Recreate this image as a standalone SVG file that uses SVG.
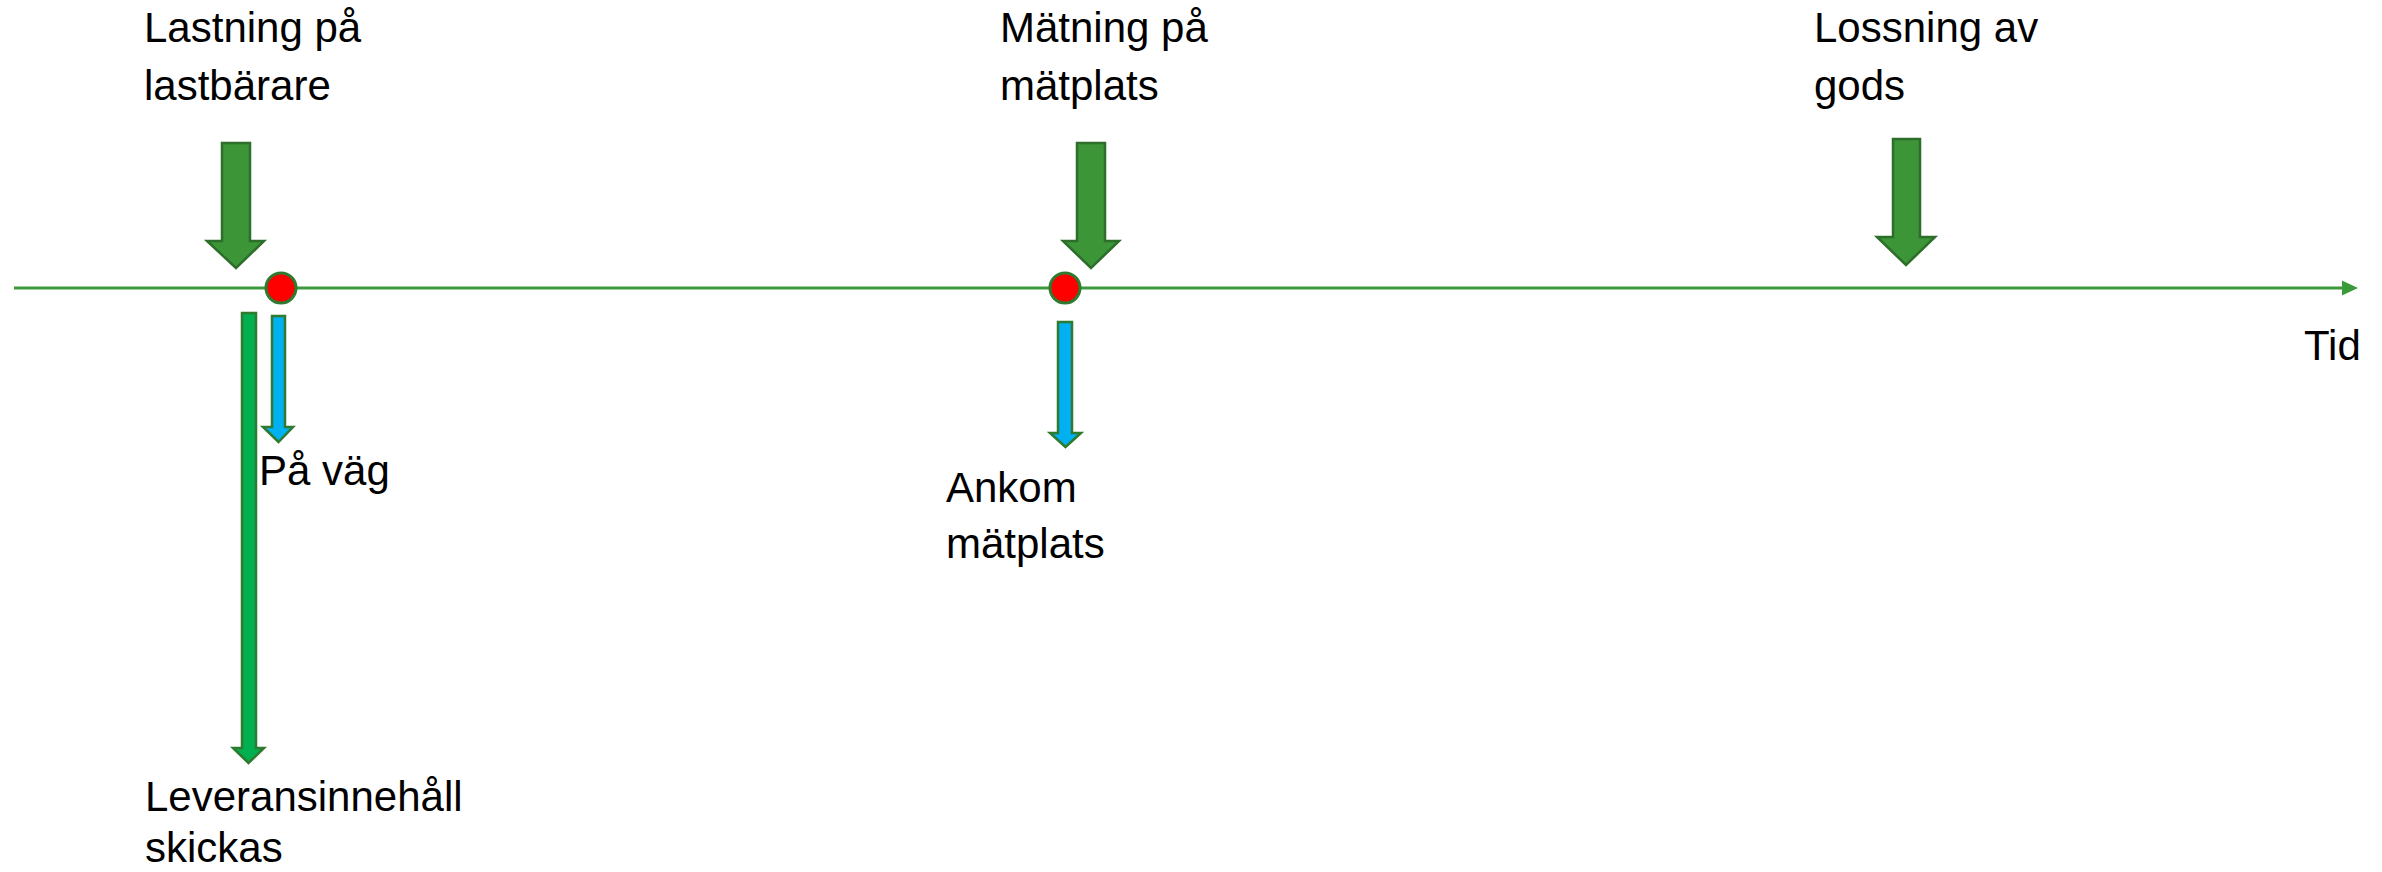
<svg xmlns="http://www.w3.org/2000/svg" width="2382" height="872" viewBox="0 0 2382 872">
<style>
  .lbl{font-family:"Liberation Sans",Arial,sans-serif;font-size:42px;fill:#000}
  .big{fill:#3c9638;stroke:#2d6e2a;stroke-width:2.5;stroke-linejoin:miter}
  .gr{fill:#00b050;stroke:#2e7a2e;stroke-width:2.5}
  .bl{fill:#00b0f0;stroke:#2e7a2e;stroke-width:2.5}
  .dot{fill:#ff0000;stroke:#2e7a2e;stroke-width:3}
</style>
<rect width="2382" height="872" fill="#ffffff"/>
<g id="connectors">
  <line x1="14" y1="288" x2="2344" y2="288" stroke="#3b9a3b" stroke-width="3"/>
  <polygon points="2342,280.5 2358,288 2342,295.5" fill="#3b9a3b"/>
</g>
<g id="node-lastning">
  <polygon class="big" points="222,143 250,143 250,241 264,241 236,268 207,241 222,241"/>
  <text class="lbl" x="144" y="42">Lastning på</text>
  <text class="lbl" x="144" y="100">lastbärare</text>
</g>
<g id="node-matning">
  <polygon class="big" points="1077,143 1105,143 1105,241 1119,241 1091,268 1063,241 1077,241"/>
  <text class="lbl" x="1000" y="42">Mätning på</text>
  <text class="lbl" x="1000" y="100">mätplats</text>
</g>
<g id="node-lossning">
  <polygon class="big" points="1893,139 1920,139 1920,237 1935,237 1906,265 1877,237 1893,237"/>
  <text class="lbl" x="1814" y="42">Lossning av</text>
  <text class="lbl" x="1814" y="100">gods</text>
</g>
<g id="node-dot1">
  <circle class="dot" cx="281" cy="288" r="15"/>
</g>
<g id="node-dot2">
  <circle class="dot" cx="1065" cy="288" r="15"/>
</g>
<g id="node-leverans">
  <polygon class="gr" points="242,313 256,313 256,748 264,748 248.5,763 233,748 242,748"/>
  <text class="lbl" x="145" y="811">Leveransinnehåll</text>
  <text class="lbl" x="145" y="862">skickas</text>
</g>
<g id="node-pavag">
  <polygon class="bl" points="272,316 285,316 285,427 293,427 278.5,442 263,427 272,427"/>
  <text class="lbl" x="259" y="485">På väg</text>
</g>
<g id="node-ankom">
  <polygon class="bl" points="1058,322 1072,322 1072,433 1081,433 1065.5,447 1050,433 1058,433"/>
  <text class="lbl" x="946" y="502">Ankom</text>
  <text class="lbl" x="946" y="558">mätplats</text>
</g>
<g id="node-tid">
  <text class="lbl" x="2304" y="360">Tid</text>
</g>
</svg>
